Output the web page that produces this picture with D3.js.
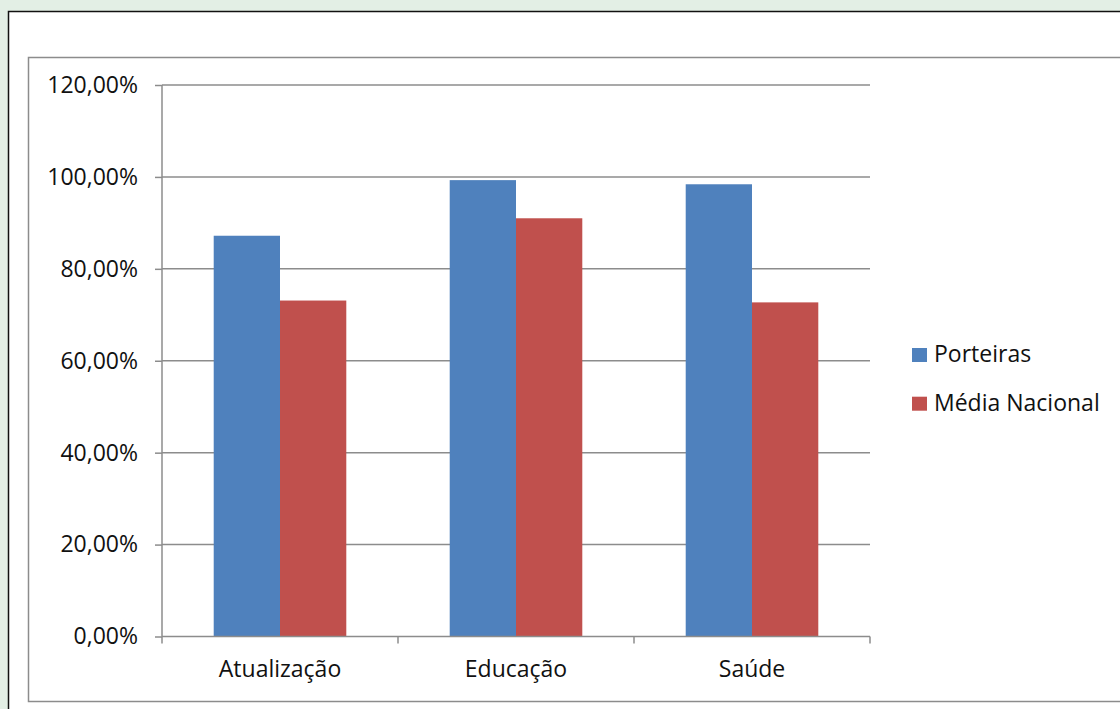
<!DOCTYPE html>
<html><head><meta charset="utf-8">
<script src="https://cdn.jsdelivr.net/npm/d3@7"></script>
<style>
html,body{margin:0;padding:0;background:#e3efe5;}
svg{display:block;}
text{font-family:"Open Sans","Noto Sans",sans-serif;fill:#111;}
</style></head>
<body>
<script>
const categories = ["Atualização", "Educação", "Saúde"];
const seriesNames = ["Porteiras", "Média Nacional"];
const porteiras = [0.872, 0.993, 0.984];
const mediaNacional = [0.731, 0.910, 0.727];
const yTicks = [0, 0.2, 0.4, 0.6, 0.8, 1.0, 1.2];
const colors = ["#4f81bd", "#c0504d"];

(function () {
const W = 1120, H = 709;
const FS = 23;
const svg = d3.select("body").append("svg").attr("width", W).attr("height", H);

// outer white box with black border
svg.append("rect").attr("x", 8.5).attr("y", 11.5).attr("width", W + 20).attr("height", H + 20)
  .attr("fill", "#fff").attr("stroke", "#111").attr("stroke-width", 1.5);
// inner chart area box
svg.append("rect").attr("x", 28.5).attr("y", 57.5).attr("width", W + 20).attr("height", 644)
  .attr("fill", "#fff").attr("stroke", "#8c8c8c").attr("stroke-width", 1.5);

const pLeft = 162, pRight = 870, pTop = 85, pBottom = 636.5;
const x = d3.scaleBand().domain(categories).range([pLeft, pRight]).paddingInner(0).paddingOuter(0);
const y = d3.scaleLinear().domain([0, 1.2]).range([pBottom, pTop]);
const fmt = d => d3.format(".2f")(d * 100).replace(".", ",") + "%";

// gridlines
svg.append("g").selectAll("line").data(yTicks.filter(d => d > 0)).join("line")
  .attr("x1", pLeft).attr("x2", pRight).attr("y1", d => y(d)).attr("y2", d => y(d))
  .attr("stroke", "#8c8c8c").attr("stroke-width", 1.5);

// bars
const inner = d3.scaleBand().domain(seriesNames).range([0, x.bandwidth()]).paddingOuter(0.78).paddingInner(0);
const data = categories.map((c, i) => ({c, vals: [porteiras[i], mediaNacional[i]]}));
const g = svg.append("g");
data.forEach(d => {
  d.vals.forEach((v, j) => {
    g.append("rect")
      .attr("x", x(d.c) + inner(seriesNames[j]))
      .attr("width", inner.bandwidth())
      .attr("y", y(v)).attr("height", y(0) - y(v))
      .attr("fill", colors[j]);
  });
});

// y axis
const yAxis = d3.axisLeft(y).tickValues(yTicks).tickFormat(fmt).tickSize(7).tickPadding(17);
const ya = svg.append("g").attr("transform", `translate(${pLeft},0)`).call(yAxis);
ya.select(".domain").attr("stroke", "#8c8c8c").attr("stroke-width", 1.5).attr("d", `M0,${pTop}V${pBottom}`);
ya.selectAll(".tick line").attr("stroke", "#8c8c8c").attr("stroke-width", 1.5);
ya.selectAll(".tick text").attr("font-size", FS).attr("fill", "#111").attr("font-family", "'Open Sans','Noto Sans',sans-serif");

// x axis
const xAxis = d3.axisBottom(x).tickSize(0).tickPadding(24.3);
const xa = svg.append("g").attr("transform", `translate(0,${pBottom})`).call(xAxis);
xa.select(".domain").attr("stroke", "#8c8c8c").attr("stroke-width", 1.5).attr("d", `M${pLeft},0H${pRight}`);
xa.selectAll(".tick text").attr("font-size", FS).attr("fill", "#111").attr("font-family", "'Open Sans','Noto Sans',sans-serif");
// category boundary ticks
const bounds = categories.map(c => x(c)).concat([pRight]);
svg.append("g").selectAll("line").data(bounds).join("line")
  .attr("x1", d => d).attr("x2", d => d).attr("y1", pBottom).attr("y2", pBottom + 7)
  .attr("stroke", "#8c8c8c").attr("stroke-width", 1.5);

// legend
const lg = svg.append("g").attr("transform", "translate(912,348)");
seriesNames.forEach((s, i) => {
  const row = lg.append("g").attr("transform", `translate(0,${i * 48.7})`);
  row.append("rect").attr("width", 15).attr("height", 14).attr("fill", colors[i]);
  row.append("text").attr("x", 22).attr("y", 14.3).attr("font-size", FS).text(s);
});
})();
</script>
</body></html>
